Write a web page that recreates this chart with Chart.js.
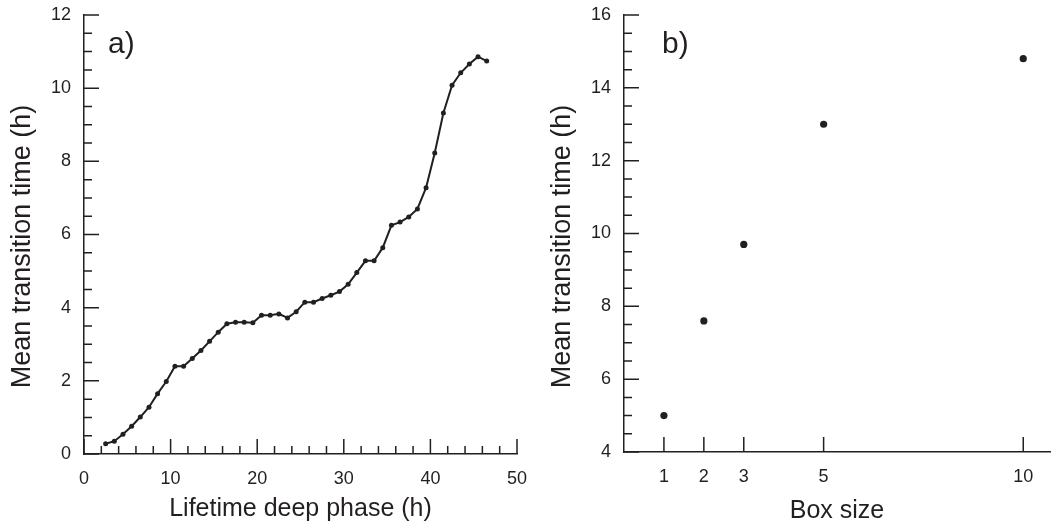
<!DOCTYPE html>
<html>
<head>
<meta charset="utf-8">
<script src="https://cdn.jsdelivr.net/npm/chart.js@4"></script>
<style>
  html, body { margin: 0; padding: 0; background: #ffffff; }
  .wrap { position: absolute; top: 0; height: 526px; }
</style>
</head>
<body>
<div class="wrap" style="left:0;width:530px"><canvas id="ca"></canvas></div>
<div class="wrap" style="left:530px;width:525px"><canvas id="cb"></canvas></div>
<script>
// ---- Panel a) data ----
const lifetimeDeepPhase = [2.5, 3.5, 4.5, 5.5, 6.5, 7.5, 8.5, 9.5, 10.5, 11.5, 12.5, 13.5, 14.5, 15.5, 16.5,
  17.5, 18.5, 19.5, 20.5, 21.5, 22.5, 23.5, 24.5, 25.5, 26.5, 27.5, 28.5, 29.5, 30.5, 31.5, 32.5,
  33.5, 34.5, 35.5, 36.5, 37.5, 38.5, 39.5, 40.5, 41.5, 42.5, 43.5, 44.5, 45.5, 46.5];
const meanTransitionA = [0.28, 0.35, 0.54, 0.76, 1.01, 1.28, 1.65, 1.98, 2.40, 2.40, 2.61, 2.83, 3.08, 3.33, 3.56,
  3.60, 3.60, 3.59, 3.79, 3.79, 3.83, 3.72, 3.89, 4.15, 4.15, 4.25, 4.34, 4.44, 4.64, 4.96, 5.28,
  5.28, 5.64, 6.25, 6.34, 6.48, 6.70, 7.28, 8.23, 9.32, 10.08, 10.42, 10.66, 10.86, 10.74];
const xTicksA = [0, 10, 20, 30, 40, 50];
const yTicksA = [0, 2, 4, 6, 8, 10, 12];

// ---- Panel b) data ----
const boxSize = [1, 2, 3, 5, 10];
const meanTransitionB = [5.0, 7.6, 9.7, 13.0, 14.8];
const xTicksB = [1, 2, 3, 5, 10];
const yTicksB = [4, 6, 8, 10, 12, 14, 16];

const INK = '#231f20';
const FONT = '"Liberation Sans", Arial, Helvetica, sans-serif';

// Inward ticks (major + minor), panel label and y title, drawn from the scales
const inTicks = {
  id: 'inTicks',
  afterDraw(chart, args, opts) {
    const ctx = chart.ctx;
    const xs = chart.scales.x, ys = chart.scales.y;
    const ca = chart.chartArea;
    ctx.save();
    ctx.strokeStyle = INK;
    ctx.lineWidth = 1.5;
    ctx.beginPath();
    opts.xMajor.forEach(v => {
      const p = xs.getPixelForValue(v);
      ctx.moveTo(p, ca.bottom); ctx.lineTo(p, ca.bottom - opts.majorLen);
    });
    if (opts.xMinorStep) {
      for (let v = xs.min; v <= xs.max + 1e-9; v += opts.xMinorStep) {
        if (opts.xMajor.some(m => Math.abs(m - v) < 1e-9)) continue;
        const p = xs.getPixelForValue(v);
        ctx.moveTo(p, ca.bottom); ctx.lineTo(p, ca.bottom - opts.minorLen);
      }
    }
    opts.yMajor.forEach(v => {
      const p = ys.getPixelForValue(v);
      ctx.moveTo(ca.left, p); ctx.lineTo(ca.left + opts.majorLen, p);
    });
    for (let v = ys.min; v <= ys.max + 1e-9; v += opts.yMinorStep) {
      if (opts.yMajor.some(m => Math.abs(m - v) < 1e-9)) continue;
      const p = ys.getPixelForValue(v);
      ctx.moveTo(ca.left, p); ctx.lineTo(ca.left + opts.minorLen, p);
    }
    ctx.stroke();
    ctx.fillStyle = INK;
    // panel label
    ctx.font = '30px ' + FONT;
    ctx.textBaseline = 'alphabetic';
    ctx.textAlign = 'left';
    ctx.fillText(opts.label, ca.left + opts.labelDx, ca.top + opts.labelDy);
    // y title
    ctx.font = '27px ' + FONT;
    ctx.textAlign = 'center';
    ctx.textBaseline = 'middle';
    ctx.translate(opts.yTitleX, (ca.top + ca.bottom) / 2 + opts.yTitleDy);
    ctx.rotate(-Math.PI / 2);
    ctx.fillText('Mean transition time (h)', 0, 0);
    ctx.restore();
  }
};

function makeOptions(cfg) {
  return {
    responsive: true,
    maintainAspectRatio: false,
    animation: false,
    events: [],
    layout: { padding: { left: 0, top: cfg.padTop, right: cfg.padRight, bottom: 0 } },
    plugins: {
      legend: { display: false },
      tooltip: { enabled: false },
      inTicks: cfg.ticks
    },
    scales: {
      x: {
        type: 'linear',
        min: cfg.xMin, max: cfg.xMax,
        afterFit: s => { s.height = cfg.xHeight; s.paddingLeft = 0; s.paddingRight = 0; },
        afterBuildTicks: s => { s.ticks = cfg.xTickVals.map(v => ({ value: v })); },
        grid: { display: false, drawTicks: false },
        border: { display: true, color: INK, width: 1.5 },
        ticks: { color: INK, font: { family: FONT, size: 18 }, padding: cfg.xLabelPad, maxRotation: 0, autoSkip: false },
        title: { display: true, text: cfg.xTitle, color: INK, font: { family: FONT, size: 25, lineHeight: 1 }, padding: { top: 0, bottom: cfg.xTitlePad } }
      },
      y: {
        type: 'linear',
        min: cfg.yMin, max: cfg.yMax,
        afterFit: s => { s.width = cfg.yWidth; s.paddingTop = 0; s.paddingBottom = 0; },
        afterBuildTicks: s => { s.ticks = cfg.yTickVals.map(v => ({ value: v })); },
        grid: { display: false, drawTicks: false },
        border: { display: true, color: INK, width: 1.5 },
        ticks: { color: INK, font: { family: FONT, size: 18 }, padding: 13, autoSkip: false },
        title: { display: false }
      }
    }
  };
}

new Chart(document.getElementById('ca'), {
  type: 'scatter',
  data: {
    datasets: [{
      data: lifetimeDeepPhase.map((x, i) => ({ x, y: meanTransitionA[i] })),
      showLine: true,
      borderColor: INK,
      borderWidth: 2,
      backgroundColor: INK,
      pointRadius: 2.5,
      pointBorderWidth: 0,
      tension: 0
    }]
  },
  options: makeOptions({
    padTop: 15, padRight: 13, xHeight: 72, yWidth: 84,
    xMin: 0, xMax: 50, yMin: 0, yMax: 12,
    xTickVals: xTicksA, yTickVals: yTicksA,
    xLabelPad: 14, xTitle: 'Lifetime deep phase (h)', xTitlePad: 4,
    ticks: { xMajor: xTicksA, xMinorStep: 2, yMajor: yTicksA, yMinorStep: 0.5, majorLen: 15, minorLen: 8,
             label: 'a)', labelDx: 24, labelDy: 38, yTitleX: 23, yTitleDy: 12 }
  }),
  plugins: [inTicks]
});

new Chart(document.getElementById('cb'), {
  type: 'scatter',
  data: {
    datasets: [{
      data: boxSize.map((x, i) => ({ x, y: meanTransitionB[i] })),
      showLine: false,
      backgroundColor: INK,
      borderColor: INK,
      pointRadius: 3.6,
      pointBorderWidth: 0
    }]
  },
  options: makeOptions({
    padTop: 15, padRight: 5, xHeight: 74, yWidth: 94,
    xMin: 0, xMax: 10.67, yMin: 4, yMax: 16,
    xTickVals: xTicksB, yTickVals: yTicksB,
    xLabelPad: 14, xTitle: 'Box size', xTitlePad: 2,
    ticks: { xMajor: xTicksB, xMinorStep: 0, yMajor: yTicksB, yMinorStep: 0.5, majorLen: 15, minorLen: 8,
             label: 'b)', labelDx: 38, labelDy: 38, yTitleX: 33, yTitleDy: 13 }
  }),
  plugins: [inTicks]
});
</script>
</body>
</html>
